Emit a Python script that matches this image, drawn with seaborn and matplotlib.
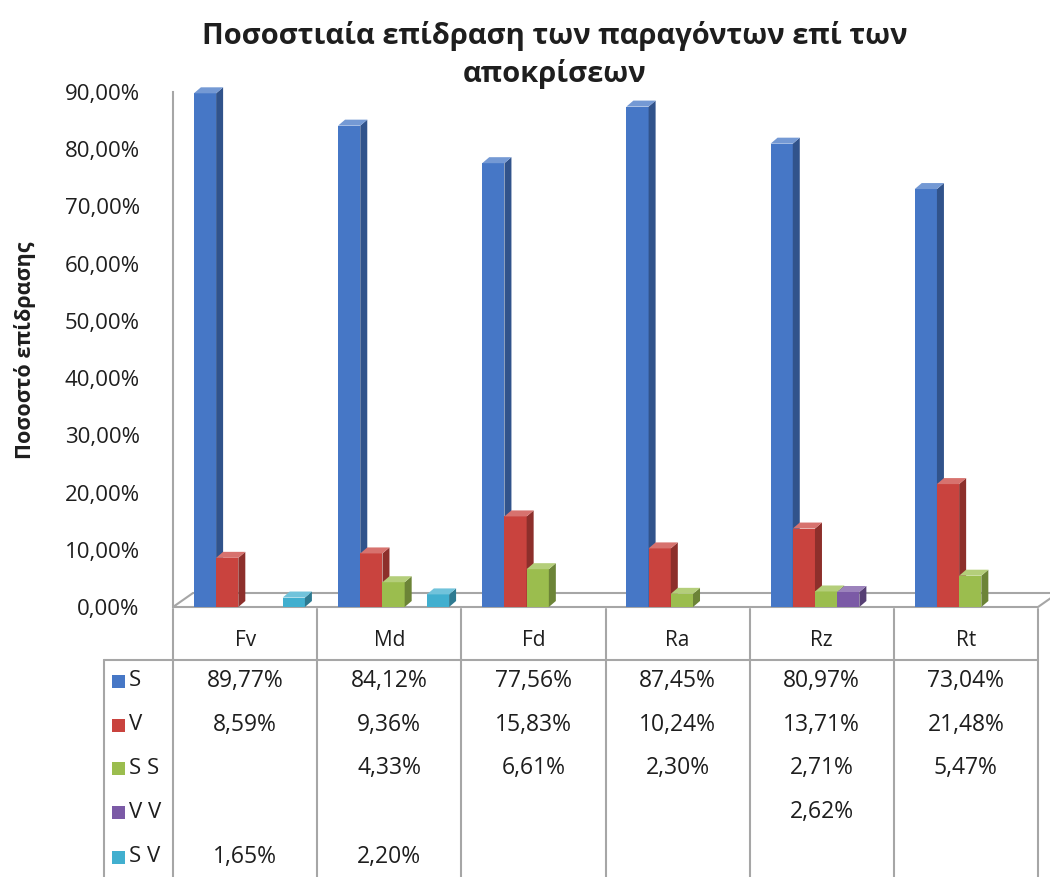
import numpy as np
import pandas as pd
import matplotlib
matplotlib.use("Agg")
import matplotlib.pyplot as plt
from matplotlib.patches import Polygon, Rectangle
from matplotlib.lines import Line2D
from matplotlib.ticker import FuncFormatter
import seaborn as sns

# ---- data -------------------------------------------------------------
categories = ["Fv", "Md", "Fd", "Ra", "Rz", "Rt"]
series_names = ["S", "V", "S S", "V V", "S V"]
s_vals = [89.77, 84.12, 77.56, 87.45, 80.97, 73.04]
v_vals = [8.59, 9.36, 15.83, 10.24, 13.71, 21.48]
ss_vals = [np.nan, 4.33, 6.61, 2.30, 2.71, 5.47]
vv_vals = [np.nan, np.nan, np.nan, np.nan, 2.62, np.nan]
sv_vals = [1.65, 2.20, np.nan, np.nan, np.nan, np.nan]
y_ticks = [0, 10, 20, 30, 40, 50, 60, 70, 80, 90]

title = "Ποσοστιαία επίδραση των παραγόντων επί των\nαποκρίσεων"
y_label = "Ποσοστό επίδρασης"

colors = ["#4677C6", "#C9433E", "#9BBD4E", "#7B5AA6", "#41AFCF"]

values = [s_vals, v_vals, ss_vals, vv_vals, sv_vals]
rows = []
for name, vals in zip(series_names, values):
    for cat, v in zip(categories, vals):
        rows.append({"cat": cat, "series": name, "val": v})
df = pd.DataFrame(rows)

# ---- figure -----------------------------------------------------------
W, H = 1050, 877
sns.set_theme(style="white")
plt.rcParams["font.family"] = ["Open Sans", "DejaVu Sans"]
TXT = "#1E1E1E"
GRID = "#A6A6A6"

fig = plt.figure(figsize=(W / 100, H / 100), dpi=100)
fig.patch.set_facecolor("white")


def fx(px):
    return px / W


def fy(py):
    return 1 - py / H


ax_left, ax_right = 173, 1038
ax_bottom, ax_top = 607, 92
ax = fig.add_axes([fx(ax_left), fy(ax_bottom), fx(ax_right) - fx(ax_left),
                   fy(ax_top) - fy(ax_bottom)])

sns.barplot(data=df, x="cat", y="val", hue="series", order=categories,
            hue_order=series_names, palette=colors, width=0.77,
            dodge=True, saturation=1, legend=False, ax=ax, linewidth=0)

x_lo, x_hi = -0.53, 5.47
ax.set_xlim(x_lo, x_hi)
ax.set_ylim(0, 90)
ax.set_facecolor("none")
for side in ["top", "right", "bottom"]:
    ax.spines[side].set_visible(False)
ax.spines["left"].set_color(GRID)
ax.spines["left"].set_linewidth(1.5)
ax.set_xticks([])
ax.set_yticks(y_ticks)
ax.yaxis.set_major_formatter(FuncFormatter(lambda v, p: f"{v:.2f}%".replace(".", ",")))
ax.tick_params(axis="y", length=0, pad=24, labelsize=16, labelcolor=TXT)
ax.set_xlabel("")
ax.set_ylabel("")

# ---- 3D floor --------------------------------------------------------
px_per_x = (ax_right - ax_left) / (x_hi - x_lo)
px_per_y = (ax_bottom - ax_top) / 90.0
fdx, fdy = 20 / px_per_x, 14 / px_per_y
floor = [(x_lo, 0), (x_hi, 0), (x_hi + fdx, fdy), (x_lo + fdx, fdy)]
ax.add_patch(Polygon(floor, closed=True, facecolor="white", edgecolor=GRID,
                     linewidth=1.5, zorder=0.5, clip_on=False))

# ---- 3D bar faces ----------------------------------------------------
def shade(c, f):
    r, g, b = matplotlib.colors.to_rgb(c)
    if f < 1:
        return (r * f, g * f, b * f)
    return (r + (1 - r) * (f - 1), g + (1 - g) * (f - 1), b + (1 - b) * (f - 1))


bdx, bdy = 7 / px_per_x, 6 / px_per_y
bars = [p for p in ax.patches if isinstance(p, Rectangle)
        and np.isfinite(p.get_height()) and p.get_height() > 0]
bars.sort(key=lambda p: p.get_x())
for k, p in enumerate(bars):
    x0, w, h = p.get_x(), p.get_width(), p.get_height()
    col = p.get_facecolor()
    z = 2 + k * 0.01
    p.set_zorder(z)
    top = [(x0, h), (x0 + bdx, h + bdy), (x0 + w + bdx, h + bdy), (x0 + w, h)]
    side = [(x0 + w, 0), (x0 + w + bdx, bdy), (x0 + w + bdx, h + bdy), (x0 + w, h)]
    ax.add_patch(Polygon(side, closed=True, facecolor=shade(col, 0.7),
                         edgecolor="none", zorder=z, clip_on=False))
    ax.add_patch(Polygon(top, closed=True, facecolor=shade(col, 1.25),
                         edgecolor="none", zorder=z, clip_on=False))

# ---- title & axis label ---------------------------------------------
fig.text(fx(555), fy(55), title, ha="center", va="center", fontsize=21,
         fontweight="bold", color=TXT, linespacing=1.38)
fig.text(fx(25), fy(350), y_label, ha="center", va="center", rotation=90,
         fontsize=15.5, fontweight="bold", color=TXT)

# ---- data table -----------------------------------------------------
def hline(x0, x1, y):
    fig.add_artist(Line2D([fx(x0), fx(x1)], [fy(y), fy(y)], color=GRID, lw=1.5))


def vline(x, y0, y1):
    fig.add_artist(Line2D([fx(x), fx(x)], [fy(y0), fy(y1)], color=GRID, lw=1.5))


col_edges = np.linspace(ax_left, ax_right, len(categories) + 1)
hline(104, ax_right, 660)
vline(104, 660, H)
for xe in col_edges:
    vline(xe, 609, H)

for i, cat in enumerate(categories):
    cx = (col_edges[i] + col_edges[i + 1]) / 2
    fig.text(fx(cx), fy(640), cat, ha="center", va="center", fontsize=15, color=TXT)

row_y = [681, 725, 768, 812, 857]
for j, (name, vals) in enumerate(zip(series_names, values)):
    y = row_y[j]
    fig.patches.append(Rectangle(
        (fx(112), fy(y + 7)), fx(13), 13 / H, facecolor=colors[j],
        edgecolor="none", transform=fig.transFigure, figure=fig))
    fig.text(fx(129), fy(y), name, ha="left", va="center", fontsize=16, color=TXT)
    for i, v in enumerate(vals):
        if np.isfinite(v):
            cx = (col_edges[i] + col_edges[i + 1]) / 2
            fig.text(fx(cx), fy(y), f"{v:.2f}%".replace(".", ","), ha="center",
                     va="center", fontsize=16.5, color=TXT)

fig.savefig("out.png", dpi=100)
